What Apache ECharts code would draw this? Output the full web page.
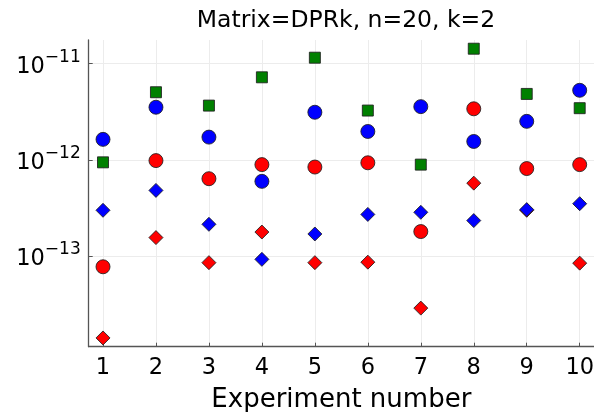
<!DOCTYPE html>
<html>
<head>
<meta charset="utf-8">
<script src="https://cdn.jsdelivr.net/npm/echarts@6/dist/echarts.min.js"></script>
<style>
html,body{margin:0;padding:0;background:#fff;}
#c{width:594px;height:412px;}
</style>
</head>
<body>
<div id="c"></div>
<script>
const experiments = [1, 2, 3, 4, 5, 6, 7, 8, 9, 10];
const blueCircles  = [1.63e-12, 3.52e-12, 1.72e-12, 5.96e-13, 3.12e-12, 1.97e-12, 3.57e-12, 1.55e-12, 2.51e-12, 5.28e-12];
const redCircles   = [7.7e-14, 9.8e-13, 6.35e-13, 8.9e-13, 8.4e-13, 9.3e-13, 1.79e-13, 3.39e-12, 8.1e-13, 8.9e-13];
const greenSquares = [9.4e-13, 5.04e-12, 3.66e-12, 7.21e-12, 1.153e-11, 3.25e-12, 8.9e-13, 1.43e-11, 4.84e-12, 3.44e-12];
const blueDiamonds = [2.98e-13, 4.80e-13, 2.13e-13, 9.2e-14, 1.69e-13, 2.70e-13, 2.84e-13, 2.33e-13, 3.03e-13, 3.49e-13];
const redDiamonds  = [1.40e-14, 1.55e-13, 8.5e-14, 1.77e-13, 8.5e-14, 8.6e-14, 2.86e-14, 5.71e-13, 2.98e-13, 8.4e-14];
const yTickExponents = [-13, -12, -11];
const xTickLabels = experiments;

const FONT = 'DejaVu Sans';
const toPairs = vals => experiments.map((x, i) => [x, Math.log10(vals[i])]);

function mk(name, vals, color, symbol, size) {
  return {
    name: name,
    type: 'scatter',
    data: toPairs(vals),
    symbol: symbol,
    symbolSize: size,
    itemStyle: { color: color, borderColor: 'rgba(30,30,30,0.85)', borderWidth: 1, opacity: 1 },
    emphasis: { disabled: true },
    animation: false
  };
}

const chart = echarts.init(document.getElementById('c'), null, { renderer: 'canvas' });
chart.setOption({
  backgroundColor: '#ffffff',
  animation: false,
  title: {
    text: 'Matrix=DPRk, n=20, k=2',
    left: 341, top: 4, textAlign: 'center',
    textStyle: { fontFamily: FONT, fontSize: 23.5, fontWeight: 'normal', color: '#000' }
  },
  grid: { left: 88.7, right: 0, top: 40, bottom: 65.3, containLabel: false, outerBoundsMode: 'none' },
  xAxis: {
    type: 'value', min: 0.73, max: 10.27,
    name: 'Experiment number', nameLocation: 'middle', nameGap: 41,
    nameTextStyle: { fontFamily: FONT, fontSize: 26, color: '#000' },
    axisLine: { show: true, onZero: false, lineStyle: { color: '#555', width: 1.3 } },
    axisTick: { show: true, inside: true, length: 4, customValues: xTickLabels, lineStyle: { color: '#555' } },
    axisLabel: { customValues: xTickLabels, fontFamily: FONT, fontSize: 22.5, color: '#000', margin: 10 },
    splitLine: { show: true, lineStyle: { color: '#ececec', width: 1 } }
  },
  yAxis: {
    type: 'value', min: -13.945, max: -10.754,
    axisLine: { show: true, onZero: false, lineStyle: { color: '#555', width: 1.3 } },
    axisTick: { show: true, inside: true, length: 4, customValues: yTickExponents, lineStyle: { color: '#555' } },
    axisLabel: {
      customValues: yTickExponents, margin: 8,
      formatter: v => '{b|10}{s|\u2212' + Math.abs(Math.round(v)) + '}',
      rich: {
        b: { fontFamily: FONT, fontSize: 22.5, color: '#000', verticalAlign: 'bottom', lineHeight: 30 },
        s: { fontFamily: FONT, fontSize: 17, color: '#000', verticalAlign: 'top', lineHeight: 30 }
      }
    },
    splitLine: { show: true, lineStyle: { color: '#ececec', width: 1 } }
  },
  series: [
    mk('blue circles', blueCircles, '#0000ff', 'circle', 14),
    mk('red circles', redCircles, '#ff0000', 'circle', 14),
    mk('green squares', greenSquares, '#008000', 'rect', 11),
    mk('red diamonds', redDiamonds, '#ff0000', 'diamond', 14),
    mk('blue diamonds', blueDiamonds, '#0000ff', 'diamond', 14)
  ]
});
</script>
</body>
</html>
